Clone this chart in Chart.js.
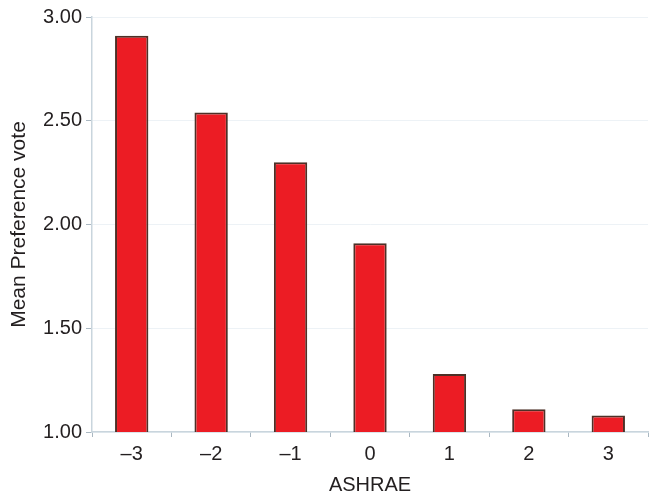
<!DOCTYPE html>
<html>
<head>
<meta charset="utf-8">
<script src="https://cdn.jsdelivr.net/npm/chart.js@4/dist/chart.umd.min.js"></script>
<style>
  html, body { margin: 0; padding: 0; background: #fff; }
  #wrap { width: 653px; height: 498px; }
</style>
</head>
<body>
<div id="wrap"><canvas id="prefChart" width="653" height="498"></canvas></div>
<script>
// ASHRAE sensation vote vs mean preference vote
const ashraeLabels = ['\u20133', '\u20132', '\u20131', '0', '1', '2', '3'];
const meanPreference = [2.91, 2.54, 2.30, 1.91, 1.28, 1.11, 1.08];
const yTicks = [1.0, 1.5, 2.0, 2.5, 3.0];

const font = { family: 'Liberation Sans, Arial, sans-serif', size: 20 };
const textColor = '#231f20';

new Chart(document.getElementById('prefChart'), {
    type: 'bar',
    data: {
        labels: ashraeLabels,
        datasets: [{
            label: 'Mean Preference vote',
            data: meanPreference,
            backgroundColor: '#ec1c24',
            borderColor: '#4d3027',
            borderWidth: 2,
            borderSkipped: false,
            categoryPercentage: 1,
            barPercentage: 0.42
        }]
    },
    options: {
        responsive: false,
        animation: false,
        layout: { padding: { top: 17, right: 5, left: 0, bottom: 0 } },
        plugins: {
            legend: { display: false },
            tooltip: { enabled: false }
        },
        scales: {
            y: {
                min: 1,
                max: 3,
                afterBuildTicks: s => { s.ticks = yTicks.map(v => ({ value: v })); },
                afterFit: s => { s.width = 92; },
                ticks: {
                    color: textColor,
                    font: font,
                    padding: 4,
                    callback: v => Number(v).toFixed(2)
                },
                grid: {
                    color: '#edf2f6',
                    tickColor: '#aab8c2',
                    tickLength: 6
                },
                border: { color: '#c9d5dd', width: 1.5 },
                title: {
                    display: true,
                    text: 'Mean Preference vote',
                    color: textColor,
                    font: { family: font.family, size: 21, lineHeight: 1 },
                    padding: { top: 9, bottom: 0 }
                }
            },
            x: {
                afterFit: s => { s.height = 66; },
                ticks: {
                    color: textColor,
                    font: font,
                    padding: 5
                },
                grid: {
                    drawOnChartArea: false,
                    tickColor: '#aab8c2',
                    tickLength: 5
                },
                border: { color: '#c9d5dd', width: 1.5 },
                title: {
                    display: true,
                    text: 'ASHRAE',
                    color: textColor,
                    font: { family: font.family, size: 20, lineHeight: 1 },
                    padding: { top: 10, bottom: 3 }
                }
            }
        }
    }
});
</script>
</body>
</html>
